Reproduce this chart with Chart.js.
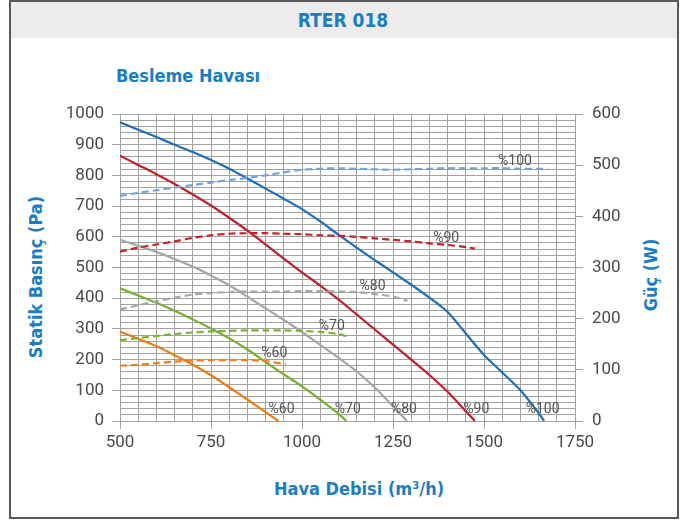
<!DOCTYPE html>
<html>
<head>
<meta charset="utf-8">
<script src="https://cdn.jsdelivr.net/npm/chart.js@4.4.0/dist/chart.umd.min.js"></script>
<style>
  body { margin: 0; width: 686px; height: 523px; overflow: hidden; background: #fff; }
  #frame { position: absolute; left: 9px; top: 0; width: 670px; height: 519px; border: 2px solid #5a5a5a; box-sizing: border-box; }
  #head { position: absolute; left: 11px; top: 2px; width: 666px; height: 36px; background: #eeeceb; }
  .t { position: absolute; color: #1c7ec2; font-family: "Liberation Sans Narrow", "DejaVu Sans Condensed", sans-serif; font-weight: bold; white-space: nowrap; transform: translate(-50%, -50%); }
  .rot { transform: translate(-50%, -50%) rotate(-90deg); }
  #wrap { position: absolute; left: 0; top: 0; width: 686px; height: 523px; }
</style>
</head>
<body>
<div id="frame"></div>
<div id="head"></div>
<div class="t" style="left:343px;top:20px;font-size:19px">RTER 018</div>
<div class="t" style="left:188px;top:75px;font-size:18px">Besleme Havası</div>
<div class="t rot" style="left:35px;top:277px;font-size:18px">Statik Basınç (Pa)</div>
<div class="t rot" style="left:650px;top:275px;font-size:18px">Güç (W)</div>
<div class="t" style="left:359px;top:488px;font-size:18px">Hava Debisi (m³/h)</div>
<div id="wrap"><canvas id="chart" width="686" height="523"></canvas></div>
<script>
// Fan curves RTER 018 — static pressure (solid, Pa) and power (dashed, W) per speed step
const flow100 = [500, 550, 600, 650, 700, 750, 800, 850, 900, 950, 1000, 1050, 1100, 1150, 1200, 1250, 1300, 1350, 1400, 1450, 1500, 1550, 1600, 1650, 1665];
const pa100   = [973, 949, 925, 900, 876, 850, 822, 790, 757, 724, 690, 650, 607, 565, 524, 484, 444, 402, 355, 285, 215, 158, 100, 26, 0];
const flow90  = [500, 550, 600, 650, 700, 750, 800, 850, 900, 950, 1000, 1050, 1100, 1150, 1200, 1250, 1300, 1350, 1400, 1450, 1475];
const pa90    = [864, 834, 804, 772, 738, 702, 662, 620, 575, 529, 484, 441, 396, 347, 298, 249, 200, 150, 95, 32, 0];
const flow80  = [500, 550, 600, 650, 700, 750, 800, 850, 900, 950, 1000, 1050, 1100, 1150, 1200, 1250, 1288];
const pa80    = [590, 571, 551, 528, 503, 474, 442, 405, 367, 329, 290, 248, 206, 162, 109, 48, 0];
const flow70  = [500, 550, 600, 650, 700, 750, 800, 850, 900, 950, 1000, 1050, 1100, 1122];
const pa70    = [432, 409, 385, 359, 331, 301, 269, 233, 192, 152, 113, 70, 24, 0];
const flow60  = [500, 550, 600, 650, 700, 750, 800, 850, 900, 935];
const pa60    = [291, 268, 244, 214, 183, 149, 110, 70, 29, 0];

const pFlow100 = [500, 550, 600, 650, 700, 750, 800, 850, 900, 950, 1000, 1050, 1100, 1150, 1200, 1250, 1300, 1350, 1400, 1450, 1500, 1550, 1600, 1650, 1675];
const w100     = [440, 446, 451, 456, 461, 466, 471, 475, 480, 486, 491, 493, 494, 493, 492, 491, 492, 493, 494, 494, 494, 494, 493, 493, 493];
const pFlow90  = [500, 550, 600, 650, 700, 750, 800, 850, 900, 950, 1000, 1050, 1100, 1150, 1200, 1250, 1300, 1350, 1400, 1450, 1475];
const w90      = [331, 339, 345, 351, 358, 363, 366, 367, 367, 366, 365, 363, 362, 360, 357, 354, 351, 347, 344, 340, 337];
const pFlow80  = [500, 550, 600, 650, 700, 750, 800, 850, 900, 950, 1000, 1050, 1100, 1150, 1200, 1250, 1290];
const w80      = [218, 226, 234, 241, 247, 250, 252, 253, 253, 253, 254, 254, 253, 252, 248, 243, 235];
const pFlow70  = [500, 550, 600, 650, 700, 750, 800, 850, 900, 950, 1000, 1050, 1100, 1125];
const w70      = [158, 162, 166, 170, 173, 175, 176, 177, 177, 177, 176, 174, 170, 165];
const pFlow60  = [500, 550, 600, 650, 700, 750, 800, 850, 900, 955];
const w60      = [108, 110, 113, 116, 118, 119, 119, 119, 117, 111];

const steps = ['%100', '%90', '%80', '%70', '%60'];
// label anchors in axis units (flow, Pa)
const powerLabelFlow = [1585, 1396, 1194, 1082, 924];
const powerLabelPa   = [845, 596, 437, 309, 221];
const endLabelFlow   = [1661, 1479, 1280, 1126, 944];
const endLabelPa     = [39, 39, 39, 39, 39];

const pts = (xs, ys) => xs.map((x, i) => ({ x: x, y: ys[i] }));

function solid(data, color) {
  return { data: data, yAxisID: 'y', borderColor: color, borderWidth: 2.2, pointRadius: 0, tension: 0.3, fill: false };
}
function dashed(data, color) {
  return { data: data, yAxisID: 'y1', borderColor: color, borderWidth: 2.2, borderDash: [7, 4], pointRadius: 0, tension: 0.3, fill: false };
}

const curveLabels = {
  id: 'curveLabels',
  afterDatasetsDraw(chart) {
    const ctx = chart.ctx, sx = chart.scales.x, sy = chart.scales.y;
    ctx.save();
    ctx.font = '14px Roboto, sans-serif';
    ctx.fillStyle = '#555';
    ctx.textAlign = 'center';
    ctx.textBaseline = 'middle';
    steps.forEach((s, i) => {
      ctx.fillText(s, sx.getPixelForValue(powerLabelFlow[i]), sy.getPixelForValue(powerLabelPa[i]));
      ctx.fillText(s, sx.getPixelForValue(endLabelFlow[i]), sy.getPixelForValue(endLabelPa[i]));
    });
    ctx.restore();
  }
};

const gridCol = '#a2a2a2';
const tickFont = { family: 'Roboto, sans-serif', size: 17 };

new Chart(document.getElementById('chart'), {
  type: 'line',
  data: {
    datasets: [
      dashed(pts(pFlow100, w100), '#6fa4dc'),
      dashed(pts(pFlow90, w90), '#c8202a'),
      dashed(pts(pFlow80, w80), '#a6a6a6'),
      dashed(pts(pFlow70, w70), '#7ab32e'),
      dashed(pts(pFlow60, w60), '#f07d1e'),
      solid(pts(flow100, pa100), '#1f6eba'),
      solid(pts(flow90, pa90), '#c0202a'),
      solid(pts(flow80, pa80), '#a6a6a6'),
      solid(pts(flow70, pa70), '#77b02e'),
      solid(pts(flow60, pa60), '#f07a12')
    ]
  },
  options: {
    responsive: false,
    animation: false,
    devicePixelRatio: 1,
    layout: { padding: { left: 60, right: 60, top: 114, bottom: 60 } },
    plugins: { legend: { display: false }, tooltip: { enabled: false } },
    scales: {
      x: {
        type: 'linear', min: 500, max: 1750,
        afterFit: s => { s.height = 42; },
        grid: { color: gridCol, tickLength: 8, tickColor: c => c.tick.value % 250 === 0 ? gridCol : 'transparent' },
        border: { color: gridCol },
        ticks: { stepSize: 50, autoSkip: false, maxRotation: 0, padding: 4, color: '#4a4a4a', font: tickFont,
                 callback: v => v % 250 === 0 ? v : '' }
      },
      y: {
        position: 'left', min: 0, max: 1000,
        afterFit: s => { s.width = 60; },
        grid: { color: gridCol, tickLength: 8, tickColor: c => c.tick.value % 100 === 0 ? gridCol : 'transparent' },
        border: { color: gridCol },
        ticks: { stepSize: 20, autoSkip: false, padding: 8, color: '#4a4a4a', font: tickFont,
                 callback: v => v % 100 === 0 ? v : '' }
      },
      y1: {
        position: 'right', min: 0, max: 600,
        afterFit: s => { s.width = 51; },
        grid: { drawOnChartArea: false, color: gridCol, tickLength: 8 },
        border: { color: gridCol },
        ticks: { stepSize: 100, padding: 9, color: '#4a4a4a', font: tickFont }
      }
    }
  },
  plugins: [curveLabels]
});
</script>
</body>
</html>
